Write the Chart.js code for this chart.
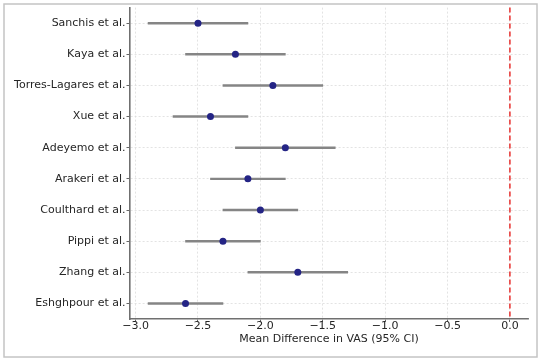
<!DOCTYPE html>
<html>
<head>
<meta charset="utf-8">
<script src="https://cdn.jsdelivr.net/npm/chart.js@4.4.1/dist/chart.umd.min.js"></script>
<style>
  html, body { margin: 0; padding: 0; background: #fff; }
</style>
</head>
<body>
<canvas id="chart1" width="542" height="362"></canvas>
<script>
const studies = ['Sanchis et al.', 'Kaya et al.', 'Torres-Lagares et al.', 'Xue et al.', 'Adeyemo et al.',
  'Arakeri et al.', 'Coulthard et al.', 'Pippi et al.', 'Zhang et al.', 'Eshghpour et al.'];
const meanDiff = [-2.5, -2.2, -1.9, -2.4, -1.8, -2.1, -2.0, -2.3, -1.7, -2.6];
const ciLow = [-2.9, -2.6, -2.3, -2.7, -2.2, -2.4, -2.3, -2.6, -2.1, -2.9];
const ciHigh = [-2.1, -1.8, -1.5, -2.1, -1.4, -1.8, -1.7, -2.0, -1.3, -2.3];
const xTicks = [-3.0, -2.5, -2.0, -1.5, -1.0, -0.5, 0.0];
const noEffect = 0;

const font = { family: 'DejaVu Sans', size: 11 };

// red dashed reference line + figure frame
const extras = {
  id: 'extras',
  afterDatasetsDraw(chart) {
    const { ctx, chartArea, scales } = chart;
    const x = scales.x.getPixelForValue(noEffect);
    ctx.save();
    ctx.strokeStyle = '#e8312f';
    ctx.lineWidth = 1.5;
    ctx.setLineDash([5, 3]);
    ctx.beginPath();
    ctx.moveTo(x, chartArea.top);
    ctx.lineTo(x, chartArea.bottom);
    ctx.stroke();
    ctx.restore();
  },
  afterDraw(chart) {
    const ctx = chart.ctx;
    ctx.save();
    ctx.strokeStyle = '#c4c4c4';
    ctx.lineWidth = 1.5;
    ctx.strokeRect(4, 4, 533, 353);
    ctx.restore();
  }
};

function renderChart() {
  const ctx1 = document.getElementById('chart1');

  new Chart(ctx1, {
    type: 'bar',
    data: {
      labels: studies,
      datasets: [{
        type: 'line',
        data: meanDiff,
        showLine: false,
        pointRadius: 3.5,
        pointBackgroundColor: '#242485',
        pointBorderColor: '#242485',
        pointBorderWidth: 0,
        order: 0
      }, {
        data: ciLow.map((lo, i) => [lo, ciHigh[i]]),
        backgroundColor: '#858585',
        barThickness: 1.8,
        borderSkipped: false,
        order: 1
      }]
    },
    options: {
      indexAxis: 'y',
      responsive: false,
      animation: false,
      layout: { padding: { left: 0, right: 14, top: 6, bottom: 16 } },
      plugins: {
        legend: { display: false },
        tooltip: { enabled: false }
      },
      scales: {
        x: {
          type: 'linear',
          min: -3.045,
          max: 0.145,
          afterBuildTicks: s => { s.ticks = xTicks.map(v => ({ value: v })); },
          afterFit: s => { s.height = 27; },
          ticks: {
            font: font,
            color: '#262626',
            padding: -2,
            maxRotation: 0,
            callback: v => v.toFixed(1).replace('-', '\u2212')
          },
          grid: { color: '#dcdcdc', lineWidth: 0.8, tickLength: 3, tickColor: '#666', tickWidth: 1 },
          border: { color: '#707070', width: 1.6, dash: [2, 2] },
          title: {
            display: true,
            text: 'Mean Difference in VAS (95% CI)',
            font: font,
            color: '#262626',
            padding: { top: 0, bottom: 0 }
          }
        },
        y: {
          afterFit: s => { s.width = 130; },
          ticks: { font: font, color: '#262626', padding: 1 },
          grid: { offset: false, color: '#dcdcdc', lineWidth: 0.8, tickLength: 3.5, tickColor: '#666', tickWidth: 1 },
          border: { color: '#707070', width: 1.6, dash: [2, 2] }
        }
      }
    },
    plugins: [extras]
  });
}
renderChart();
</script>
</body>
</html>
